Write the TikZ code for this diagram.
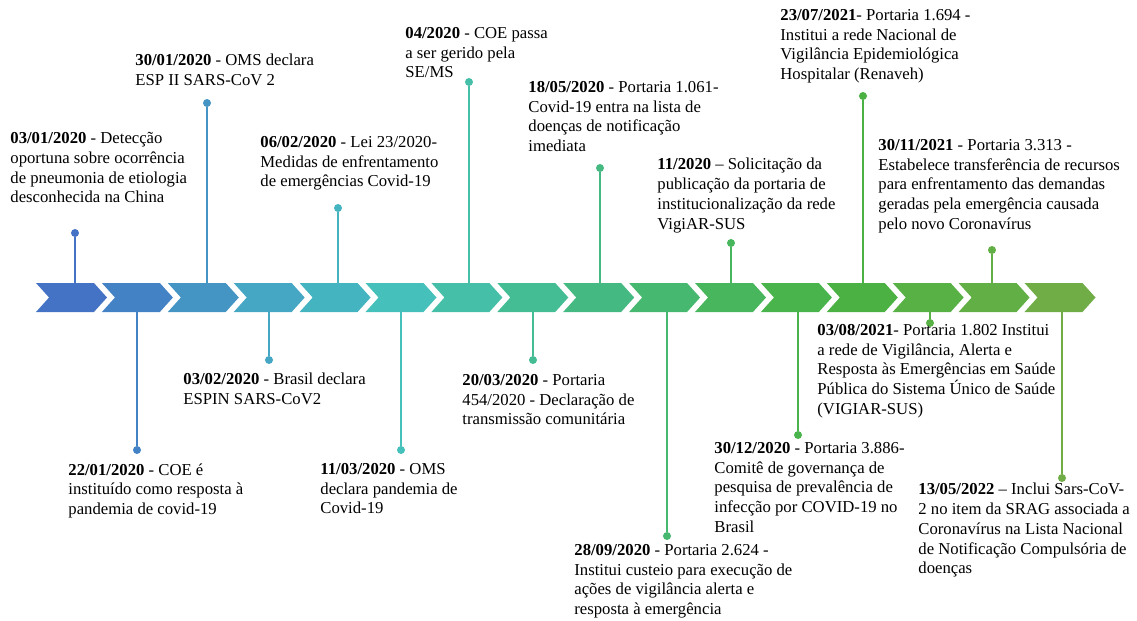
\documentclass[tikz,border=0pt]{standalone}
\usepackage{fontspec}
\setmainfont{Liberation Serif}
\newfontfamily\tlserif{Liberation Serif}
\usetikzlibrary{shapes.symbols}
\definecolor{tl1}{HTML}{4472C4}
\definecolor{tl2}{HTML}{4382C4}
\definecolor{tl3}{HTML}{4595C4}
\definecolor{tl4}{HTML}{45A7C4}
\definecolor{tl5}{HTML}{44B4C0}
\definecolor{tl6}{HTML}{46C0BA}
\definecolor{tl7}{HTML}{45BFA8}
\definecolor{tl8}{HTML}{44BC94}
\definecolor{tl9}{HTML}{45B982}
\definecolor{tl10}{HTML}{47B870}
\definecolor{tl11}{HTML}{47B65C}
\definecolor{tl12}{HTML}{4AB44C}
\definecolor{tl13}{HTML}{4BB143}
\definecolor{tl14}{HTML}{57B145}
\definecolor{tl15}{HTML}{62AF46}
\definecolor{tl16}{HTML}{70AD47}
\tikzset{
  chev/.style={signal,signal from=west,signal to=east,signal pointer angle=96,
    minimum width=35.5pt,minimum height=14.5pt,inner sep=0pt,draw=none},
  pin/.style={circle,inner sep=0pt,minimum size=4pt},
  stem/.style={line width=1pt},
  event/.style={anchor=north west,align=left,inner sep=0pt}
}
\begin{document}
\begin{tikzpicture}[x=0.5pt,y=-0.5pt,font=\tlserif\fontsize{8.35}{9.85}\selectfont]
\useasboundingbox (0,0) rectangle (1137,621);
% arrow band
\foreach \i in {1,...,16}
  \node[chev,fill=tl\i] (ch\i) at ({71.5+65.9*(\i-1)},297.5) {};
% events above the band
\node[pin,fill=tl1] (d1) at (75,233) {};
\draw[stem,tl1] (d1) -- (d1 |- ch1.north);
\node[event] (t1) at (10,132) {\textbf{03/01/2020} - Detecção\\oportuna sobre ocorrência\\de pneumonia de etiologia\\desconhecida na China};
\node[pin,fill=tl3] (d3) at (207,103) {};
\draw[stem,tl3] (d3) -- (d3 |- ch3.north);
\node[event] (t3) at (135,54) {\textbf{30/01/2020} - OMS declara\\ESP II SARS-CoV 2};
\node[pin,fill=tl5] (d5) at (338,208) {};
\draw[stem,tl5] (d5) -- (d5 |- ch5.north);
\node[event] (t5) at (260,136) {\textbf{06/02/2020} - Lei 23/2020-\\Medidas de enfrentamento\\de emergências Covid-19};
\node[pin,fill=tl7] (d7) at (469,82) {};
\draw[stem,tl7] (d7) -- (d7 |- ch7.north);
\node[event] (t7) at (405,27) {\textbf{04/2020} - COE passa\\a ser gerido pela\\SE/MS};
\node[pin,fill=tl9] (d9) at (600,168) {};
\draw[stem,tl9] (d9) -- (d9 |- ch9.north);
\node[event] (t9) at (528,81) {\textbf{18/05/2020} - Portaria 1.061-\\Covid-19 entra na lista de\\doenças de notificação\\imediata};
\node[pin,fill=tl11] (d11) at (731,243) {};
\draw[stem,tl11] (d11) -- (d11 |- ch11.north);
\node[event] (t11) at (657,158) {\textbf{11/2020} – Solicitação da\\publicação da portaria de\\institucionalização da rede\\VigiAR-SUS};
\node[pin,fill=tl13] (d13) at (863,96) {};
\draw[stem,tl13] (d13) -- (d13 |- ch13.north);
\node[event] (t13) at (780,9) {\textbf{23/07/2021}- Portaria 1.694 -\\Institui a rede Nacional de\\Vigilância Epidemiológica\\Hospitalar (Renaveh)};
\node[pin,fill=tl15] (d15) at (992,250) {};
\draw[stem,tl15] (d15) -- (d15 |- ch15.north);
\node[event] (t15) at (878,139) {\textbf{30/11/2021} - Portaria 3.313 -\\Estabelece transferência de recursos\\para enfrentamento das demandas\\geradas pela emergência causada\\pelo novo Coronavírus};
% events below the band
\node[pin,fill=tl2] (d2) at (137,450) {};
\draw[stem,tl2] (d2) -- (d2 |- ch2.south);
\node[event] (t2) at (68,463) {\textbf{22/01/2020} - COE é\\instituído como resposta à\\pandemia de covid-19};
\node[pin,fill=tl4] (d4) at (269,360) {};
\draw[stem,tl4] (d4) -- (d4 |- ch4.south);
\node[event] (t4) at (183,373) {\textbf{03/02/2020} - Brasil declara\\ESPIN SARS-CoV2};
\node[pin,fill=tl6] (d6) at (401,450) {};
\draw[stem,tl6] (d6) -- (d6 |- ch6.south);
\node[event] (t6) at (320,463) {\textbf{11/03/2020} - OMS\\declara pandemia de\\Covid-19};
\node[pin,fill=tl8] (d8) at (533,360) {};
\draw[stem,tl8] (d8) -- (d8 |- ch8.south);
\node[event] (t8) at (462,374) {\textbf{20/03/2020} - Portaria\\454/2020 - Declaração de\\transmissão comunitária};
\node[pin,fill=tl10] (d10) at (667,536) {};
\draw[stem,tl10] (d10) -- (d10 |- ch10.south);
\node[event] (t10) at (574,544) {\textbf{28/09/2020} - Portaria 2.624 -\\Institui custeio para execução de\\ações de vigilância alerta e\\resposta à emergência};
\node[pin,fill=tl12] (d12) at (798,435) {};
\draw[stem,tl12] (d12) -- (d12 |- ch12.south);
\node[event] (t12) at (714,442) {\textbf{30/12/2020} - Portaria 3.886-\\Comitê de governança de\\pesquisa de prevalência de\\infecção por COVID-19 no\\Brasil};
\node[pin,fill=tl14] (d14) at (930,323) {};
\draw[stem,tl14] (d14) -- (d14 |- ch14.south);
\node[event] (t14) at (817,324) {\textbf{03/08/2021}- Portaria 1.802 Institui\\a rede de Vigilância, Alerta e\\Resposta às Emergências em Saúde\\Pública do Sistema Único de Saúde\\(VIGIAR-SUS)};
\node[pin,fill=tl16] (d16) at (1062,478) {};
\draw[stem,tl16] (d16) -- (d16 |- ch16.south);
\node[event] (t16) at (918,483) {\textbf{13/05/2022} – Inclui Sars-CoV-\\2 no item da SRAG associada a\\Coronavírus na Lista Nacional\\de Notificação Compulsória de\\doenças};
\end{tikzpicture}
\end{document}
